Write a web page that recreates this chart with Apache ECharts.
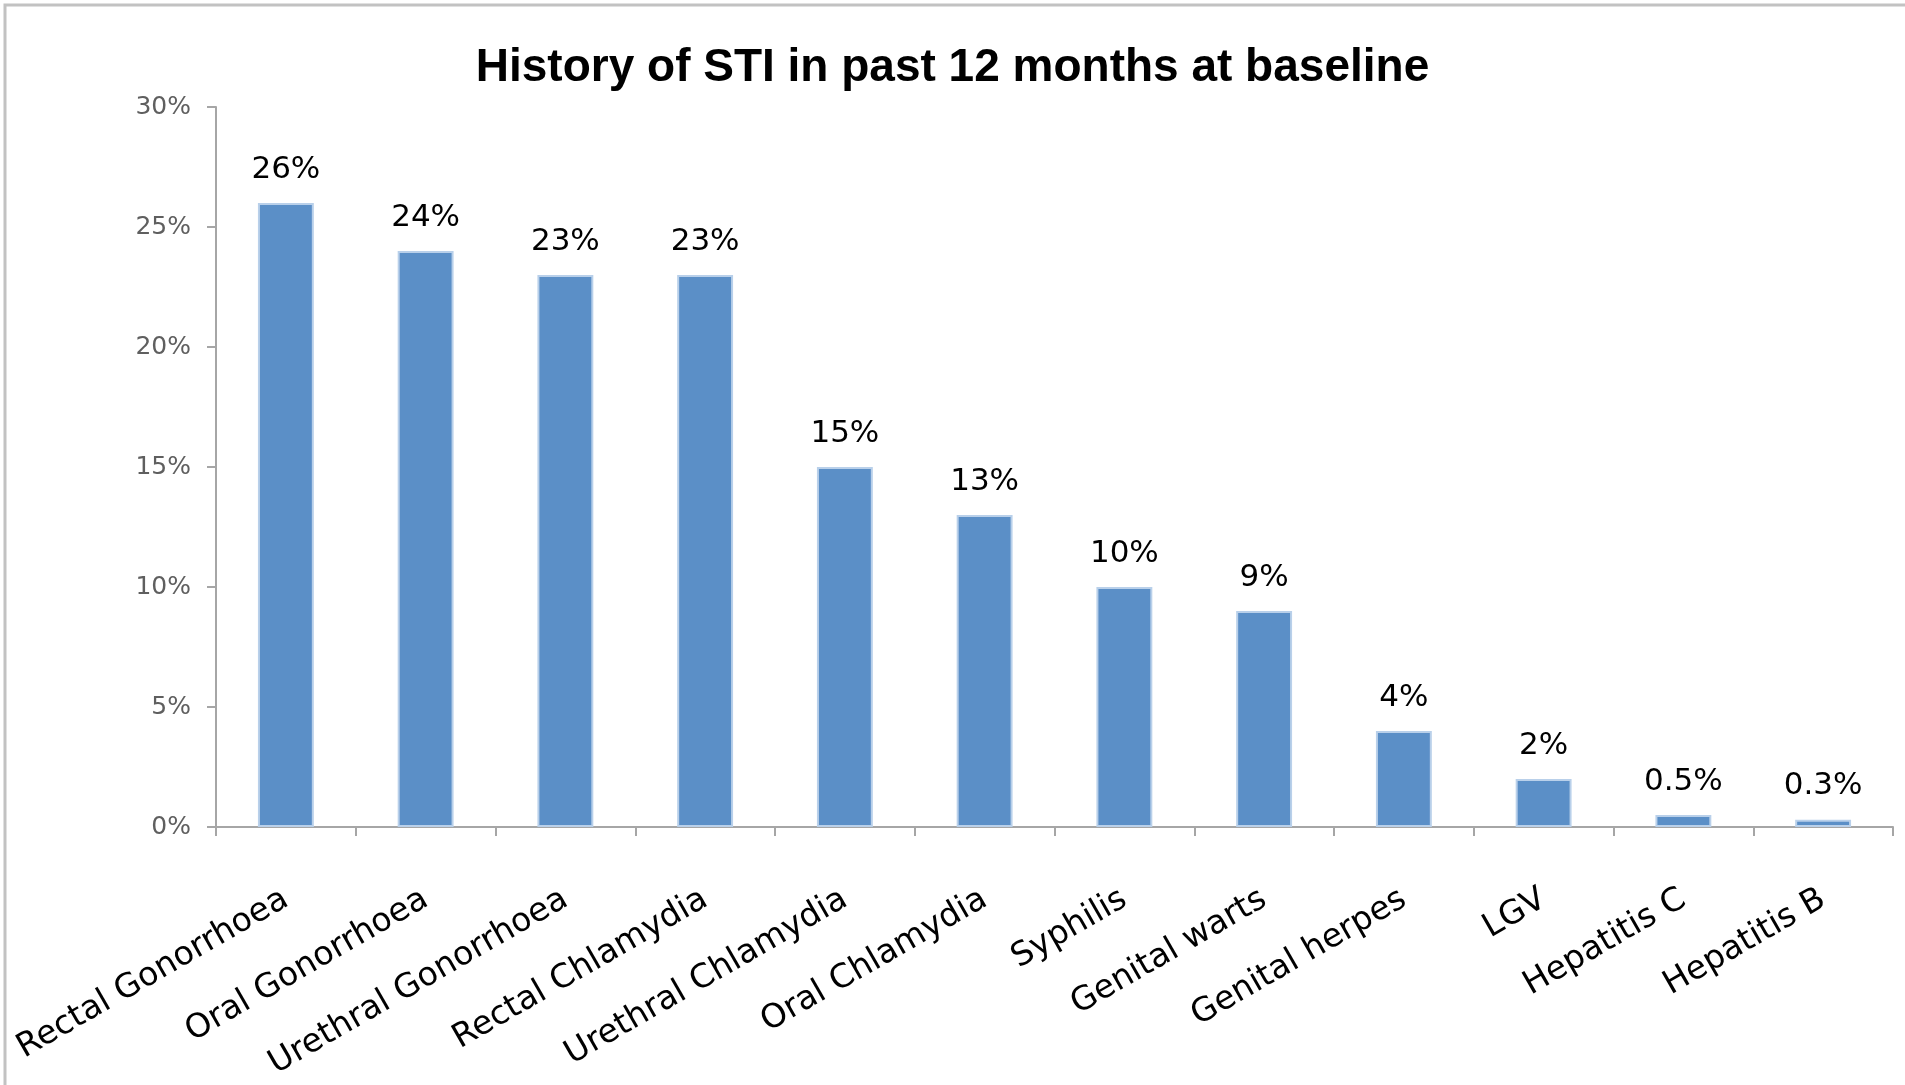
<!DOCTYPE html>
<html>
<head>
<meta charset="utf-8">
<script src="https://cdn.jsdelivr.net/npm/echarts@6/dist/echarts.min.js"></script>
<style>
  html, body { margin: 0; padding: 0; background: #fff; }
  #chart { width: 1905px; height: 1085px; }
</style>
</head>
<body>
<div id="chart"></div>
<script>
// data
var categories = ['Rectal Gonorrhoea', 'Oral Gonorrhoea', 'Urethral Gonorrhoea', 'Rectal Chlamydia',
  'Urethral Chlamydia', 'Oral Chlamydia', 'Syphilis', 'Genital warts', 'Genital herpes',
  'LGV', 'Hepatitis C', 'Hepatitis B']
var values = [26, 24, 23, 23, 15, 13, 10, 9, 4, 2, 0.5, 0.3]
var yTicks = [0, 5, 10, 15, 20, 25, 30]

var chart = echarts.init(document.getElementById('chart'))
var option = {
  backgroundColor: '#fff',
  animation: false,
  title: {
    text: 'History of STI in past 12 months at baseline',
    left: 'center',
    top: 40,
    textStyle: { fontFamily: 'Liberation Sans', fontWeight: 'bold', fontSize: 46, color: '#000' }
  },
  // chart frame like the excel one (top and left edge)
  graphic: [
    { type: 'polyline', silent: true, shape: { points: [[5, 1085], [5, 5], [1905, 5]] },
      style: { stroke: '#c2c2c2', lineWidth: 3, fill: null } }
  ],
  grid: { left: 216, right: 12, top: 107, bottom: 258, containLabel: false },
  xAxis: {
    type: 'category',
    data: categories,
    axisLine: { lineStyle: { color: '#a6a6a6', width: 2 } },
    axisTick: { show: true, length: 9, lineStyle: { color: '#a6a6a6', width: 2 } },
    axisLabel: {
      interval: 0, rotate: 30, margin: 70,
      fontFamily: 'DejaVu Sans', fontSize: 33, color: '#000'
    }
  },
  yAxis: {
    type: 'value',
    min: yTicks[0],
    max: yTicks[yTicks.length - 1],
    interval: 5,
    axisLine: { show: true, lineStyle: { color: '#a6a6a6', width: 2 } },
    axisTick: { show: true, length: 9, lineStyle: { color: '#a6a6a6', width: 2 } },
    splitLine: { show: false },
    axisLabel: {
      formatter: '{value}%', margin: 25,
      fontFamily: 'DejaVu Sans', fontSize: 25, color: '#5f5f5f'
    }
  },
  series: [{
    type: 'bar',
    data: values,
    barWidth: '40%',
    itemStyle: { color: '#5b8fc7', borderColor: '#b9d0ea', borderWidth: 2 },
    label: {
      show: true, position: 'top', distance: 18,
      formatter: '{c}%',
      fontFamily: 'DejaVu Sans', fontSize: 31, color: '#000'
    }
  }]
}
chart.setOption(option)
</script>
</body>
</html>
